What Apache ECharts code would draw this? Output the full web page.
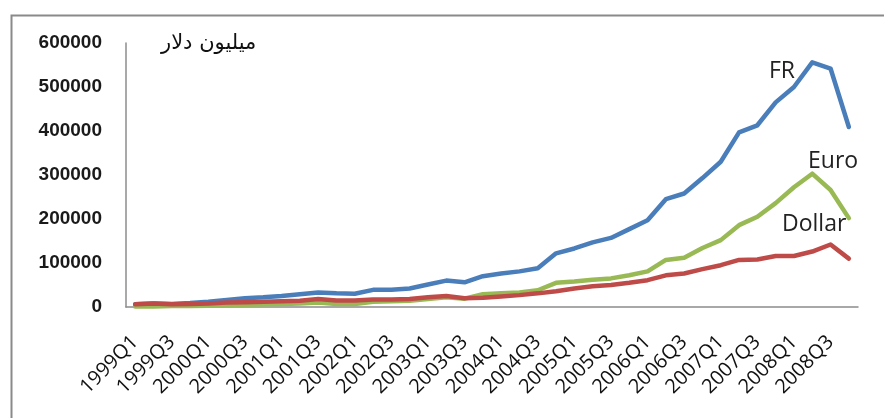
<!DOCTYPE html>
<html>
<head>
<meta charset="utf-8">
<script src="https://cdn.jsdelivr.net/npm/echarts@6/dist/echarts.min.js"></script>
<style>
html,body{margin:0;padding:0;background:#fff;}
#chart{width:884px;height:418px;}
</style>
</head>
<body>
<div id="chart"></div>
<script>
var categories = [
  '1999Q1','1999Q2','1999Q3','1999Q4',
  '2000Q1','2000Q2','2000Q3','2000Q4',
  '2001Q1','2001Q2','2001Q3','2001Q4',
  '2002Q1','2002Q2','2002Q3','2002Q4',
  '2003Q1','2003Q2','2003Q3','2003Q4',
  '2004Q1','2004Q2','2004Q3','2004Q4',
  '2005Q1','2005Q2','2005Q3','2005Q4',
  '2006Q1','2006Q2','2006Q3','2006Q4',
  '2007Q1','2007Q2','2007Q3','2007Q4',
  '2008Q1','2008Q2','2008Q3','2008Q4'
];
var frValues = [
  6000, 8000, 7000, 9000,
  12000, 16000, 20000, 22000,
  25000, 29000, 33000, 31000,
  30000, 39000, 39000, 42000,
  51000, 60000, 56000, 70000,
  76000, 81000, 88000, 122000,
  133000, 147000, 157000, 177000,
  197000, 245000, 258000, 293000,
  330000, 397000, 413000, 465000,
  500000, 556000, 542000, 409000
];
var euroValues = [
  1000, 1000, 2000, 2000,
  3000, 4000, 5000, 6000,
  7000, 8000, 10000, 7000,
  7000, 12000, 13000, 14000,
  18000, 22000, 19000, 29000,
  31000, 33000, 38000, 55000,
  58000, 62000, 65000, 72000,
  81000, 107000, 112000, 134000,
  152000, 186000, 205000, 236000,
  272000, 303000, 266000, 202000
];
var dollarValues = [
  6000, 8000, 6000, 7000,
  8000, 10000, 11000, 12000,
  13000, 14000, 18000, 15000,
  15000, 17000, 17000, 18000,
  22000, 25000, 20000, 21000,
  24000, 27000, 31000, 36000,
  42000, 47000, 50000, 55000,
  61000, 72000, 76000, 86000,
  95000, 107000, 108000, 116000,
  116000, 126000, 142000, 110000
];
var seriesNames = ['FR', 'Euro', 'Dollar'];
var unitTitle = 'میلیون دلار';

var chart = echarts.init(document.getElementById('chart'), null, {renderer: 'canvas'});
var lineStyleBase = {width: 4.5, cap: 'round', join: 'round'};
chart.setOption({
  animation: false,
  backgroundColor: '#ffffff',
  grid: {left: 126, right: 26, top: 43, bottom: 111, containLabel: false},
  xAxis: {
    type: 'category',
    data: categories,
    boundaryGap: true,
    axisLine: {show: true, lineStyle: {color: '#8c8c8c', width: 1.5}},
    axisTick: {show: false},
    axisLabel: {
      interval: 1,
      rotate: 45,
      margin: 32,
      fontFamily: 'Open Sans',
      fontSize: 20,
      color: '#111'
    },
    splitLine: {show: false}
  },
  yAxis: {
    type: 'value',
    min: 0,
    max: 600000,
    interval: 100000,
    axisLine: {show: true, lineStyle: {color: '#8c8c8c', width: 1.5}},
    axisTick: {show: false},
    axisLabel: {
      margin: 24,
      fontFamily: 'Liberation Sans',
      fontWeight: 'bold',
      fontSize: 19,
      color: '#1a1a1a',
      formatter: function (v) { return String(v); }
    },
    splitLine: {show: false}
  },
  series: [
    {name: seriesNames[0], type: 'line', data: frValues, showSymbol: false, symbol: 'none',
     lineStyle: Object.assign({color: '#4a7ebb'}, lineStyleBase), itemStyle: {color: '#4a7ebb'}},
    {name: seriesNames[1], type: 'line', data: euroValues, showSymbol: false, symbol: 'none',
     lineStyle: Object.assign({color: '#98b954'}, lineStyleBase), itemStyle: {color: '#98b954'}},
    {name: seriesNames[2], type: 'line', data: dollarValues, showSymbol: false, symbol: 'none',
     lineStyle: Object.assign({color: '#be4b48'}, lineStyleBase), itemStyle: {color: '#be4b48'}}
  ],
  graphic: [
    {type: 'rect', left: 9, top: 13, shape: {width: 900, height: 430},
     style: {fill: 'none', stroke: '#8a8a8a', lineWidth: 2}, silent: true, z: -1},
    {type: 'text', left: 161, top: 33,
     style: {text: unitTitle, font: '21px "DejaVu Serif", "DejaVu Sans"', fill: '#111'}},
    {type: 'text', left: 769, top: 60,
     style: {text: seriesNames[0], font: '23px "Open Sans"', fill: '#222'}},
    {type: 'text', left: 808, top: 150,
     style: {text: seriesNames[1], font: '23px "Open Sans"', fill: '#222'}},
    {type: 'text', left: 782, top: 213,
     style: {text: seriesNames[2], font: '23px "Open Sans"', fill: '#222'}}
  ]
});
</script>
</body>
</html>
